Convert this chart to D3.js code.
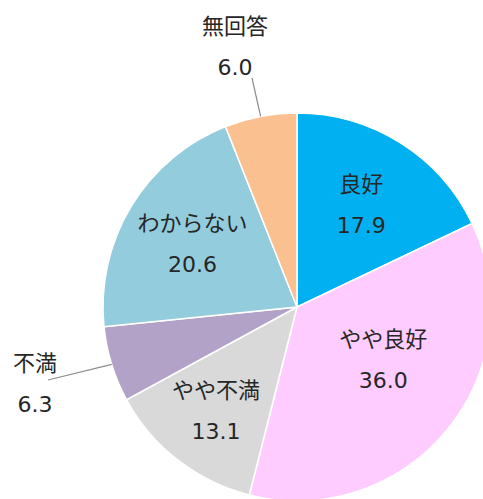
<!DOCTYPE html>
<html>
<head>
<meta charset="utf-8">
<script src="https://cdn.jsdelivr.net/npm/d3@7/dist/d3.min.js"></script>
<style>
  html, body { margin: 0; padding: 0; background: #fff; }
  svg text { font-family: "DejaVu Sans", "Noto Sans CJK JP", sans-serif; fill: #262626; }
</style>
</head>
<body>
<svg id="chart" width="483" height="499"></svg>
<script>
// Survey answer categories, clockwise from 12 o'clock
const categories = ["良好", "やや良好", "やや不満", "不満", "わからない", "無回答"];
const values = [17.9, 36.0, 13.1, 6.3, 20.6, 6.0];
const colors = ["#00B0F0", "#FFCCFF", "#D9D9D9", "#B3A2C7", "#93CDDD", "#FAC090"];

const svg = d3.select("#chart");
const cx = 297, cy = 307, r = 194;
const g = svg.append("g").attr("transform", `translate(${cx},${cy})`);

const pie = d3.pie().sort(null).value(d => d.value);
const arcs = pie(categories.map((c, i) => ({ cat: c, value: values[i], color: colors[i] })));

const arc = d3.arc().innerRadius(0).outerRadius(r);

g.selectAll("path.slice")
  .data(arcs)
  .enter().append("path")
  .attr("class", "slice")
  .attr("d", arc)
  .attr("fill", d => d.data.color)
  .attr("stroke", "#fff")
  .attr("stroke-width", 1.5);

// Label placement: inside labels sit on a ring; small slices get callouts
const inside = new Set(["良好", "やや良好", "やや不満", "わからない"]);
const ringFactor = { "良好": 0.62, "やや良好": 0.52, "やや不満": 0.68, "わからない": 0.63 };
const angleShift = { "やや良好": -0.14 };
const callout = { "無回答": [-62, -260], "不満": [-262, 77] };
const calloutLine = { "無回答": [-45, -229], "不満": [-249, 73] };

const fontSize = 22;
const lineGap = 41;

arcs.forEach(d => {
  const name = d.data.cat;
  const label = d.data.value.toFixed(1);
  let lx, ly;
  if (inside.has(name)) {
    const a = (d.startAngle + d.endAngle) / 2 + (angleShift[name] || 0);
    const rr = r * ringFactor[name];
    lx = rr * Math.sin(a);
    ly = -rr * Math.cos(a);
  } else {
    [lx, ly] = callout[name];
    const a = (d.startAngle + d.endAngle) / 2;
    const [sx, sy] = calloutLine[name];
    g.append("line")
      .attr("x1", sx).attr("y1", sy)
      .attr("x2", r * Math.sin(a)).attr("y2", -r * Math.cos(a))
      .attr("stroke", "#8c8c8c").attr("stroke-width", 1.2);
  }
  const t = g.append("text")
    .attr("text-anchor", "middle")
    .attr("font-size", fontSize);
  t.append("tspan").attr("x", lx).attr("y", ly - lineGap / 2).attr("dy", "0.35em").text(name);
  t.append("tspan").attr("x", lx).attr("y", ly + lineGap / 2).attr("dy", "0.35em").text(label);
});
</script>
</body>
</html>
